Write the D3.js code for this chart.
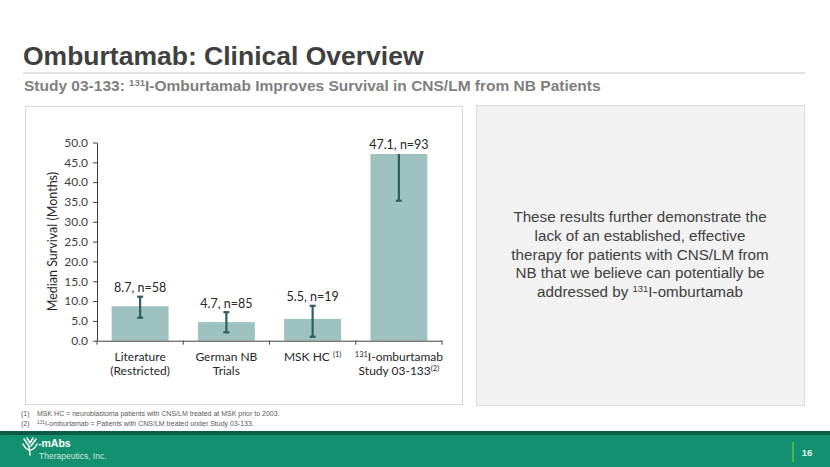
<!DOCTYPE html>
<html>
<head>
<meta charset="utf-8">
<script src="https://cdn.jsdelivr.net/npm/d3@7"></script>
<style>
  html, body { margin: 0; padding: 0; background: #ffffff; }
  svg { display: block; }
</style>
</head>
<body>
<div id="chart"></div>
<script>
// ---------- data ----------
const categories = ["Literature (Restricted)", "German NB Trials", "MSK HC", "131I-omburtamab Study 03-133"];
const medianSurvival = [8.7, 4.7, 5.5, 47.1];
const nPatients = [58, 85, 19, 93];
const ciLow = [5.8, 2.1, 1.0, 35.3];
const ciHigh = [11.1, 7.2, 8.8, 47.1];
const ciHighReached = [true, true, true, false];
const yTicks = [0, 5, 10, 15, 20, 25, 30, 35, 40, 45, 50];
// category label lines: segments with optional superscript
const categoryLines = [
  [[{t: "Literature"}], [{t: "(Restricted)"}]],
  [[{t: "German NB"}], [{t: "Trials"}]],
  [[{t: "MSK HC "}, {t: "(1)", sup: true}]],
  [[{t: "131", sup: true}, {t: "I-omburtamab"}], [{t: "Study 03-133"}, {t: "(2)", sup: true}]]
];
const footnotes = [
  ["(1)", [{t: "MSK HC = neuroblastoma patients with CNS/LM treated at MSK prior to 2003."}]],
  ["(2)", [{t: "131", sup: true}, {t: "I-omburtamab = Patients with CNS/LM treated under Study 03-133."}]]
];
const sideText = [
  [{t: "These results further demonstrate the"}],
  [{t: "lack of an established, effective"}],
  [{t: "therapy for patients with CNS/LM from"}],
  [{t: "NB that we believe can potentially be"}],
  [{t: "addressed by "}, {t: "131", sup: true}, {t: "I-omburtamab"}]
];

// ---------- setup ----------
const W = 830, H = 467;
const svg = d3.select("#chart").append("svg").attr("width", W).attr("height", H);
const SANS = "'Liberation Sans', Arial, sans-serif";
const CHARTFONT = "Lato, 'Open Sans', sans-serif";

function addSegs(textSel, segs, supSize) {
  segs.forEach(s => {
    if (s.sup) {
      textSel.append("tspan").attr("font-size", supSize).attr("baseline-shift", "super").text(s.t);
    } else {
      textSel.append("tspan").text(s.t);
    }
  });
}

// ---------- header ----------
svg.append("text").attr("x", 23).attr("y", 65)
  .attr("font-family", SANS).attr("font-weight", "bold").attr("font-size", 26.5)
  .attr("fill", "#404040").text("Omburtamab: Clinical Overview");
svg.append("line").attr("x1", 23).attr("x2", 805).attr("y1", 73).attr("y2", 73)
  .attr("stroke", "#c8c8c8").attr("stroke-width", 1);
const sub = svg.append("text").attr("x", 24).attr("y", 91)
  .attr("font-family", SANS).attr("font-weight", "bold").attr("font-size", 15.5)
  .attr("fill", "#7f7f7f");
addSegs(sub, [{t: "Study 03-133: "}, {t: "131", sup: true}, {t: "I-Omburtamab Improves Survival in CNS/LM from NB Patients"}], 9.5);

// ---------- chart box ----------
svg.append("rect").attr("x", 25.5).attr("y", 106.5).attr("width", 437).attr("height", 298)
  .attr("fill", "#ffffff").attr("stroke", "#d9d9d9").attr("stroke-width", 1);

const x = d3.scaleBand().domain(categories).range([97, 442]).paddingInner(0.34).paddingOuter(0.17);
const y = d3.scaleLinear().domain([0, 50]).range([340.7, 142.5]);

// bars
svg.append("g").selectAll("rect").data(categories).join("rect")
  .attr("x", d => x(d)).attr("width", x.bandwidth())
  .attr("y", (d, i) => y(medianSurvival[i]))
  .attr("height", (d, i) => y(0) - y(medianSurvival[i]))
  .attr("fill", "#9ec2c0");

// error bars
const eb = svg.append("g").attr("stroke", "#2f5e5b").attr("stroke-width", 2.2);
categories.forEach((c, i) => {
  const cx = x(c) + x.bandwidth() / 2;
  eb.append("line").attr("x1", cx).attr("x2", cx).attr("y1", y(ciLow[i])).attr("y2", y(ciHigh[i]));
  eb.append("line").attr("x1", cx - 3).attr("x2", cx + 3).attr("y1", y(ciLow[i])).attr("y2", y(ciLow[i]));
  if (ciHighReached[i]) {
    eb.append("line").attr("x1", cx - 3).attr("x2", cx + 3).attr("y1", y(ciHigh[i])).attr("y2", y(ciHigh[i]));
  }
});

// data labels
svg.append("g").selectAll("text").data(categories).join("text")
  .attr("x", d => x(d) + x.bandwidth() / 2)
  .attr("y", (d, i) => y(Math.max(ciHigh[i], medianSurvival[i])) - 4.5)
  .attr("text-anchor", "middle").attr("font-family", CHARTFONT).attr("font-size", 12.5)
  .attr("fill", "#262626")
  .text((d, i) => medianSurvival[i].toFixed(1) + ", n=" + nPatients[i]);

// y axis
const yAxis = svg.append("g").attr("transform", "translate(97,0)")
  .call(d3.axisLeft(y).tickValues(yTicks).tickFormat(d3.format(".1f")).tickSize(4).tickSizeOuter(0));
yAxis.select(".domain").attr("stroke", "#404040");
yAxis.selectAll(".tick line").attr("stroke", "#404040");
yAxis.selectAll(".tick text").attr("font-family", CHARTFONT).attr("font-size", 12)
  .attr("fill", "#404040").attr("x", -9);

// x axis
const xAxis = svg.append("g").attr("transform", `translate(0,${y(0)})`)
  .call(d3.axisBottom(x).tickSize(0).tickSizeOuter(0).tickFormat(""));
xAxis.select(".domain").attr("stroke", "#404040");
const bounds = d3.range(categories.length + 1).map(k => x.range()[0] + k * x.step());
xAxis.selectAll(".bound").data(bounds).join("line").attr("class", "bound")
  .attr("x1", d => d).attr("x2", d => d).attr("y1", 0).attr("y2", 4)
  .attr("stroke", "#404040");

// category labels
categories.forEach((c, i) => {
  const cx = x(c) + x.bandwidth() / 2;
  categoryLines[i].forEach((segs, li) => {
    const t = svg.append("text").attr("x", cx).attr("y", y(0) + 20 + li * 14.5)
      .attr("text-anchor", "middle").attr("font-family", CHARTFONT).attr("font-size", 12)
      .attr("fill", "#262626");
    addSegs(t, segs, 7.5);
  });
});

// y title
svg.append("text")
  .attr("transform", `translate(57,${(y(0) + y(50)) / 2}) rotate(-90)`)
  .attr("text-anchor", "middle").attr("font-family", CHARTFONT).attr("font-size", 12.5)
  .attr("fill", "#262626").text("Median Survival (Months)");

// ---------- side panel ----------
svg.append("rect").attr("x", 476.5).attr("y", 105.5).attr("width", 328).attr("height", 300)
  .attr("fill", "#f2f2f2").attr("stroke", "#dcdcdc").attr("stroke-width", 1);
sideText.forEach((segs, li) => {
  const t = svg.append("text").attr("x", 640).attr("y", 222 + li * 18.8)
    .attr("text-anchor", "middle").attr("font-family", SANS).attr("font-size", 15.2)
    .attr("fill", "#404040");
  addSegs(t, segs, 9.5);
});

// ---------- footnotes ----------
footnotes.forEach((fn, li) => {
  const yy = 416 + li * 9.5;
  svg.append("text").attr("x", 21).attr("y", yy).attr("font-family", SANS).attr("font-size", 7)
    .attr("fill", "#595959").text(fn[0]);
  const t = svg.append("text").attr("x", 37).attr("y", yy).attr("font-family", SANS).attr("font-size", 7)
    .attr("fill", "#595959");
  addSegs(t, fn[1], 4.8);
});

// ---------- footer ----------
svg.append("rect").attr("x", 0).attr("y", 431).attr("width", W).attr("height", 36).attr("fill", "#12906f");
svg.append("rect").attr("x", 0).attr("y", 431).attr("width", W).attr("height", 4).attr("fill", "#0b5b46");
svg.append("line").attr("x1", 793).attr("x2", 793).attr("y1", 442).attr("y2", 462)
  .attr("stroke", "#6abf3a").attr("stroke-width", 1.5);
svg.append("text").attr("x", 807).attr("y", 456).attr("text-anchor", "middle")
  .attr("font-family", SANS).attr("font-weight", "bold").attr("font-size", 9.5)
  .attr("fill", "#e6f2ee").text("16");

// logo icon
const logo = svg.append("g").attr("stroke", "#ffffff").attr("fill", "none").attr("stroke-width", 1.5)
  .attr("stroke-linecap", "round");
logo.append("path").attr("d", "M24,439 L29,446 L30,455 M36,439 L31,446");
logo.append("path").attr("d", "M27,438 L30,443 L33,438");
logo.append("path").attr("d", "M23,444 Q26,450 30,450 Q34,450 37,444");
svg.append("text").attr("x", 38).attr("y", 447).attr("font-family", SANS).attr("font-weight", "bold")
  .attr("font-size", 10.5).attr("fill", "#ffffff").text("-mAbs");
svg.append("text").attr("x", 39).attr("y", 459).attr("font-family", SANS)
  .attr("font-size", 8.5).attr("fill", "#cfe9df").text("Therapeutics, Inc.");
</script>
</body>
</html>
